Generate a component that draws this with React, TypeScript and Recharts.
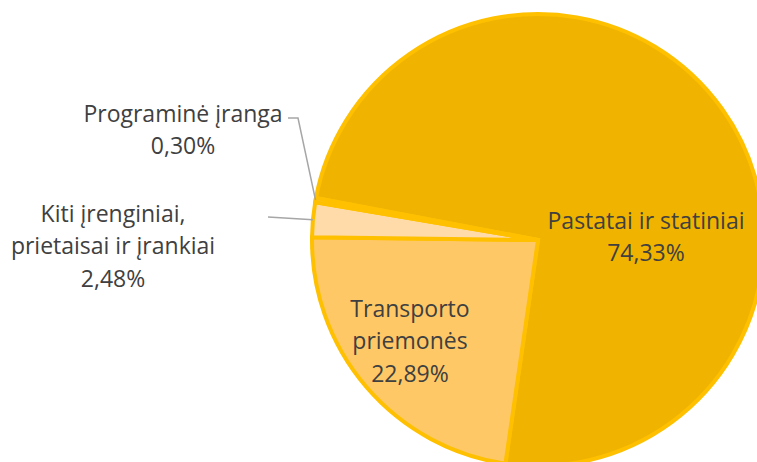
import React from 'react';
import { PieChart, Pie, Cell } from 'recharts';

const categories = ['Pastatai ir statiniai', 'Transporto priemonės', 'Kiti įrenginiai, prietaisai ir įrankiai', 'Programinė įranga'];
const values = [74.33, 22.89, 2.48, 0.3];
const valueLabels = ['74,33%', '22,89%', '2,48%', '0,30%'];
const labelLines = [
  ['Pastatai ir statiniai', '74,33%'],
  ['Transporto', 'priemonės', '22,89%'],
  ['Kiti įrenginiai,', 'prietaisai ir įrankiai', '2,48%'],
  ['Programinė įranga', '0,30%'],
];
const colors = ['#F0B400', '#FFC866', '#FFDBAA', '#F3C660'];

// label centres relative to pie centre (Excel "best fit" placement)
const labelOffsets = [
  { dx: 108, dy: -4 },
  { dx: -128, dy: 100 },
  { dx: -425, dy: 5 },
  { dx: -355, dy: -111 },
];

const data = categories.map((name, i) => ({ name, value: values[i], label: valueLabels[i] }));

const LINE_H = 32.5;
const FONT = '"Open Sans", sans-serif';

const renderLabel = (props: any) => {
  const { cx, cy, midAngle, outerRadius, index } = props;
  const off = labelOffsets[index];
  const lines = labelLines[index];
  const x = cx + off.dx;
  const y0 = cy + off.dy - ((lines.length - 1) * LINE_H) / 2;
  const RAD = Math.PI / 180;
  const px = cx + outerRadius * Math.cos(-midAngle * RAD);
  const py = cy + outerRadius * Math.sin(-midAngle * RAD);
  let leader = null;
  if (index === 2) {
    leader = <polyline points={`${px},${py} ${cx - 270},${cy - 23}`} fill="none" stroke="#a6a6a6" strokeWidth={1.5} />;
  } else if (index === 3) {
    leader = (
      <polyline
        points={`${px},${py} ${cx - 240},${cy - 122} ${cx - 250},${cy - 122}`}
        fill="none"
        stroke="#a6a6a6"
        strokeWidth={1.5}
      />
    );
  }
  return (
    <g key={`lbl-${index}`}>
      {leader}
      <text x={x} y={y0} textAnchor="middle" dominantBaseline="central" fill="#404040" fontSize={23} fontFamily={FONT}>
        {lines.map((t, i) => (
          <tspan key={i} x={x} y={y0 + i * LINE_H}>
            {t}
          </tspan>
        ))}
      </text>
    </g>
  );
};

export default function App() {
  return (
    <div style={{ position: 'absolute', left: 0, top: 0, width: 757, height: 462, background: '#fff' }}>
      <PieChart width={757} height={462} margin={{ top: 0, right: 0, bottom: 0, left: 0 }}>
        <Pie
          data={data}
          dataKey="value"
          nameKey="name"
          cx={538}
          cy={240}
          outerRadius={226}
          startAngle={169.3}
          endAngle={-190.7}
          stroke="#FFC000"
          strokeWidth={4}
          label={renderLabel}
          labelLine={false}
          isAnimationActive={false}
        >
          {data.map((d, i) => (
            <Cell key={d.name} fill={colors[i]} />
          ))}
        </Pie>
      </PieChart>
    </div>
  );
}
